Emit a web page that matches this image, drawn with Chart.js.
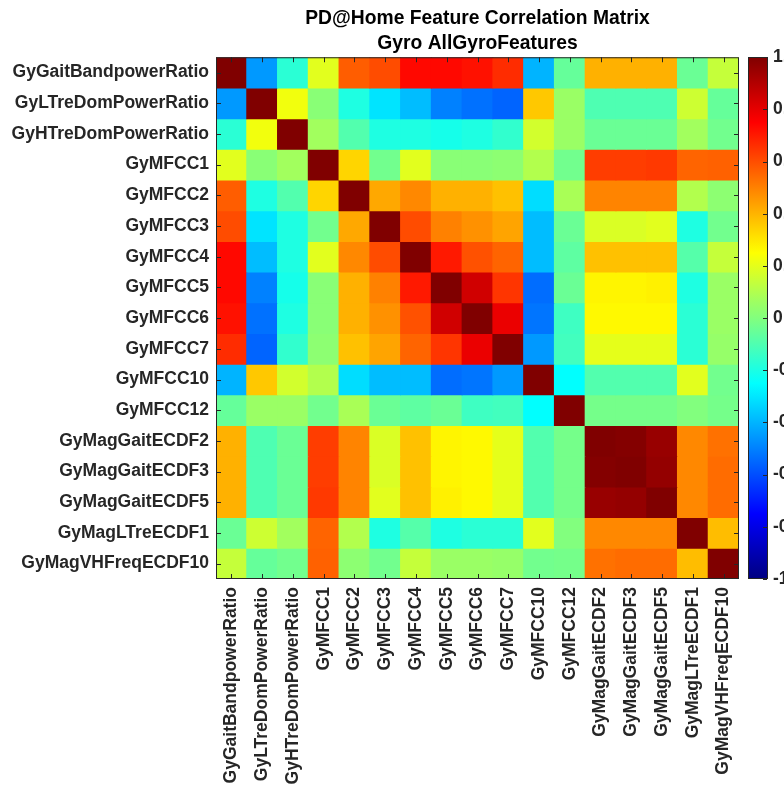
<!DOCTYPE html>
<html>
<head>
<meta charset="utf-8">
<script src="https://cdn.jsdelivr.net/npm/chart.js@4"></script>
<style>
  html, body { margin: 0; padding: 0; background: #fff; }
  #wrap { width: 784px; height: 787px; position: relative; }
</style>
</head>
<body>
<div id="wrap"><canvas id="heat"></canvas></div>
<script>
const features = [
  'GyGaitBandpowerRatio', 'GyLTreDomPowerRatio', 'GyHTreDomPowerRatio',
  'GyMFCC1', 'GyMFCC2', 'GyMFCC3', 'GyMFCC4', 'GyMFCC5', 'GyMFCC6', 'GyMFCC7',
  'GyMFCC10', 'GyMFCC12', 'GyMagGaitECDF2', 'GyMagGaitECDF3', 'GyMagGaitECDF5',
  'GyMagLTreECDF1', 'GyMagVHFreqECDF10',
];

// correlation matrix, one row per feature (top to bottom)
const corr = [
  [1.00, -0.45, -0.17, 0.19, 0.57, 0.60, 0.73, 0.73, 0.72, 0.66, -0.40, -0.05, 0.40, 0.40, 0.40, -0.04, 0.14],
  [-0.45, 1.00, 0.22, 0.02, -0.19, -0.30, -0.38, -0.50, -0.53, -0.55, 0.36, 0.05, -0.10, -0.10, -0.10, 0.15, -0.05],
  [-0.17, 0.22, 1.00, 0.07, -0.09, -0.19, -0.19, -0.21, -0.19, -0.15, 0.16, 0.05, -0.04, -0.04, -0.04, 0.07, -0.03],
  [0.19, 0.02, 0.07, 1.00, 0.33, -0.03, 0.19, 0.02, 0.02, 0.03, 0.10, -0.03, 0.63, 0.63, 0.64, 0.55, 0.56],
  [0.57, -0.19, -0.09, 0.33, 1.00, 0.42, 0.48, 0.40, 0.40, 0.37, -0.32, 0.08, 0.49, 0.49, 0.49, 0.10, 0.03],
  [0.60, -0.30, -0.19, -0.03, 0.42, 1.00, 0.60, 0.50, 0.47, 0.43, -0.38, -0.04, 0.18, 0.18, 0.19, -0.19, -0.03],
  [0.73, -0.38, -0.19, 0.19, 0.48, 0.60, 1.00, 0.70, 0.59, 0.55, -0.38, -0.07, 0.37, 0.37, 0.37, -0.08, 0.14],
  [0.73, -0.50, -0.21, 0.02, 0.40, 0.50, 0.70, 1.00, 0.84, 0.65, -0.54, -0.04, 0.27, 0.27, 0.28, -0.19, 0.05],
  [0.72, -0.53, -0.19, 0.02, 0.40, 0.47, 0.59, 0.84, 1.00, 0.79, -0.52, -0.13, 0.26, 0.26, 0.26, -0.17, 0.05],
  [0.66, -0.55, -0.15, 0.03, 0.37, 0.43, 0.55, 0.65, 0.79, 1.00, -0.45, -0.12, 0.20, 0.20, 0.20, -0.17, 0.04],
  [-0.40, 0.36, 0.16, 0.10, -0.32, -0.38, -0.38, -0.54, -0.52, -0.45, 1.00, -0.25, -0.09, -0.09, -0.09, 0.19, -0.03],
  [-0.05, 0.05, 0.05, -0.03, 0.08, -0.04, -0.07, -0.04, -0.13, -0.12, -0.25, 1.00, -0.02, -0.02, -0.02, 0.00, -0.02],
  [0.40, -0.10, -0.04, 0.63, 0.49, 0.18, 0.37, 0.27, 0.26, 0.20, -0.09, -0.02, 1.00, 0.99, 0.95, 0.48, 0.53],
  [0.40, -0.10, -0.04, 0.63, 0.49, 0.18, 0.37, 0.27, 0.26, 0.20, -0.09, -0.02, 0.99, 1.00, 0.96, 0.48, 0.54],
  [0.40, -0.10, -0.04, 0.64, 0.49, 0.19, 0.37, 0.28, 0.26, 0.20, -0.09, -0.02, 0.95, 0.96, 1.00, 0.48, 0.54],
  [-0.04, 0.15, 0.07, 0.55, 0.10, -0.19, -0.08, -0.19, -0.17, -0.17, 0.19, 0.00, 0.48, 0.48, 0.48, 1.00, 0.38],
  [0.14, -0.05, -0.03, 0.56, 0.03, -0.03, 0.14, 0.05, 0.05, 0.04, -0.03, -0.02, 0.53, 0.54, 0.54, 0.38, 1.00],
];

const titleLines = ['PD@Home Feature Correlation Matrix', 'Gyro AllGyroFeatures'];
const cbMin = -1;
const cbMax = 1;
const cbStep = 0.2;

const FONT = "'Liberation Sans', Arial, Helvetica, sans-serif";
const AXIS_COLOR = '#262626';
const LEVELS = 256;

// MATLAB-style jet colormap
const jet = (v) => {
  const k = Math.round((v - cbMin) / (cbMax - cbMin) * (LEVELS - 1));
  const t = k / (LEVELS - 1);
  const f = (c) => Math.max(0, Math.min(1, 1.5 - Math.abs(4 * t - c)));
  return `rgb(${Math.round(255 * f(3))},${Math.round(255 * f(2))},${Math.round(255 * f(1))})`;
};

// frame, inward tick marks and the colorbar
const framePlugin = {
  id: 'frame',
  afterDraw(chart) {
    const { ctx, chartArea: a, scales } = chart;
    ctx.save();
    ctx.strokeStyle = AXIS_COLOR;
    ctx.lineWidth = 1;
    ctx.beginPath();
    const tl = 5;
    scales.x.ticks.forEach((_, i) => {
      const px = Math.round(scales.x.getPixelForTick(i)) + 0.5;
      ctx.moveTo(px, a.bottom); ctx.lineTo(px, a.bottom - tl);
      ctx.moveTo(px, a.top); ctx.lineTo(px, a.top + tl);
    });
    scales.y.ticks.forEach((t) => {
      const py = Math.round(scales.y.getPixelForValue(t.value)) + 0.5;
      ctx.moveTo(a.left, py); ctx.lineTo(a.left + tl, py);
      ctx.moveTo(a.right, py); ctx.lineTo(a.right - tl, py);
    });
    ctx.stroke();
    ctx.strokeRect(a.left + 0.5, a.top + 0.5, a.right - a.left - 1, a.bottom - a.top - 1);

    // colorbar
    const cb = scales.cb;
    const x0 = a.right + 9;
    const x1 = a.right + 28;
    const yTop = cb.getPixelForValue(cbMax);
    const yBot = cb.getPixelForValue(cbMin);
    const grad = ctx.createLinearGradient(0, yBot, 0, yTop);
    for (let k = 0; k <= 32; k++) {
      grad.addColorStop(k / 32, jet(cbMin + k / 32 * (cbMax - cbMin)));
    }
    ctx.fillStyle = grad;
    ctx.fillRect(x0, yTop, x1 - x0, yBot - yTop);
    ctx.beginPath();
    cb.ticks.forEach((t) => {
      const py = Math.round(cb.getPixelForValue(t.value)) + 0.5;
      ctx.moveTo(x1, py); ctx.lineTo(x1 - 4, py);
    });
    ctx.stroke();
    ctx.strokeRect(Math.round(x0) + 0.5, Math.round(yTop) + 0.5, x1 - x0, Math.round(yBot - yTop) - 1);
    ctx.restore();
  },
};

const datasets = features.map((name, r) => ({
  label: name,
  data: features.map(() => 1),
  backgroundColor: corr[r].map(jet),
  borderWidth: 0,
  inflateAmount: 0.5,
  barPercentage: 1,
  categoryPercentage: 1,
}));

document.addEventListener('DOMContentLoaded', () => {
  new Chart(document.getElementById('heat').getContext('2d'), {
    type: 'bar',
    data: { labels: features, datasets },
    options: {
      responsive: true,
      maintainAspectRatio: false,
      animation: false,
      layout: { padding: 0 },
      scales: {
        x: {
          stacked: true,
          grid: { display: false, drawTicks: false },
          border: { display: false },
          ticks: {
            autoSkip: false,
            minRotation: 90,
            maxRotation: 90,
            padding: 8,
            color: AXIS_COLOR,
            font: { family: FONT, size: 17.5, weight: 'bold' },
          },
          afterFit: (s) => { s.height = 208; },
        },
        y: {
          stacked: true,
          min: 0,
          max: features.length,
          reverse: true,
          grid: { display: false, drawTicks: false },
          border: { display: false },
          afterBuildTicks: (s) => { s.ticks = features.map((_, i) => ({ value: i + 0.5 })); },
          ticks: {
            padding: 7,
            color: AXIS_COLOR,
            font: { family: FONT, size: 17.5, weight: 'bold' },
            callback: (v) => features[Math.floor(v)],
          },
          afterFit: (s) => { s.width = 216; },
        },
        cb: {
          type: 'linear',
          position: 'right',
          min: cbMin,
          max: cbMax,
          grid: { display: false, drawTicks: false },
          border: { display: false },
          ticks: {
            stepSize: cbStep,
            padding: 34,
            color: AXIS_COLOR,
            font: { family: FONT, size: 17.5, weight: 'bold' },
          },
          afterFit: (s) => { s.width = 45; },
        },
      },
      plugins: {
        legend: { display: false },
        tooltip: { enabled: false },
        title: {
          display: true,
          text: titleLines,
          fullSize: false,
          color: '#000',
          font: { family: FONT, size: 19.3, weight: 'bold', lineHeight: 1.25 },
          padding: { top: 7, bottom: 2 },
        },
      },
    },
    plugins: [framePlugin],
  });
});
</script>
</body>
</html>
